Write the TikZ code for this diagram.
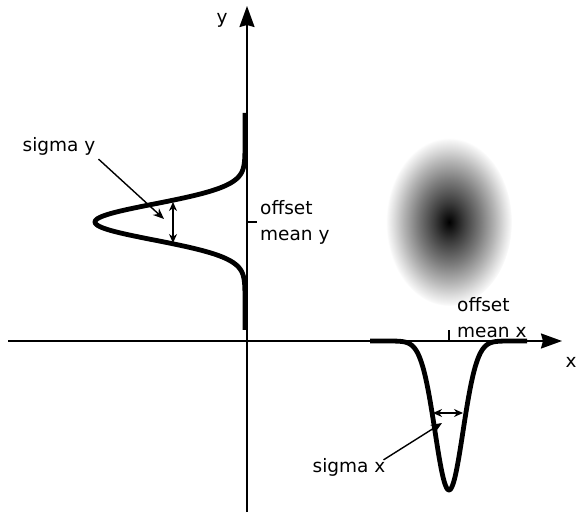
\documentclass[tikz,border=0pt]{standalone}
\usepackage{fontspec}
\setmainfont{DejaVu Sans}
\usetikzlibrary{arrows.meta}
\pgfdeclareradialshading{blob}{\pgfpoint{0bp}{0bp}}{color(0bp)=(black); color(2bp)=(black!92); color(6bp)=(black!76); color(12.5bp)=(black!52); color(18bp)=(black!30); color(22bp)=(black!13); color(24.5bp)=(black!3); color(25bp)=(white); color(50bp)=(white)}
\begin{document}
\begin{tikzpicture}[x=1pt,y=-1pt,
  lbl/.style={font=\fontsize{18.5}{26}\selectfont, inner sep=0pt},
  axis/.style={line width=2pt, -{Stealth[length=21pt,width=15pt,inset=2pt]}},
  curve/.style={line width=4.8pt, line join=round},
  pointer/.style={line width=1.4pt, -{Stealth[length=11pt,width=9pt]}},
  dbl/.style={line width=1.4pt, {Stealth[length=9pt,width=8pt]}-{Stealth[length=9pt,width=8pt]}},
  tick/.style={line width=1.4pt}]
\useasboundingbox (0,0) rectangle (579,513);
% blob
\shade[shading=blob] (449,222) ellipse [x radius=63, y radius=84];
% axes
\coordinate (xs) at (8,341);
\coordinate (xe) at (562,341);
\coordinate (ys) at (247,512);
\coordinate (ye) at (247,6);
\draw[axis] (xs) -- (xe);
\draw[axis] (ys) -- (ye);
\node[lbl] (xl) at (571,362) {x};
\node[lbl] (yl) at (222,20) {y};
% y gaussian
\draw[curve] plot[domain=113:330, samples=200] ({245-150*exp(-((\x-222)^2)/(2*18*18))},\x);
% x gaussian
\draw[curve] plot[domain=370:527, samples=200] (\x,{341+149*exp(-((\x-449)^2)/(2*14*14))});
% ticks
\coordinate (ty0) at (247,222);
\coordinate (ty1) at (257,222);
\draw[tick] (ty0) -- (ty1);
\coordinate (tx0) at (449,341);
\coordinate (tx1) at (449,330);
\draw[tick] (tx0) -- (tx1);
\node[lbl, anchor=west, align=left] (omy) at (260,222) {offset\\mean y};
\node[lbl, anchor=west, align=left] (omx) at (457,318) {offset\\mean x};
% sigma y
\node[lbl] (sy) at (59,146) {sigma y};
\coordinate (syt) at (164,219);
\draw[pointer] (sy.south east) ++(3,4) -- (syt);
\coordinate (dy0) at (173,202);
\coordinate (dy1) at (173,243);
\draw[dbl] (dy0) -- (dy1);
% sigma x
\node[lbl] (sx) at (349,467) {sigma x};
\coordinate (sxt) at (442,423);
\draw[pointer] (sx.north east) ++(-2,2) -- (sxt);
\coordinate (dx0) at (433,413);
\coordinate (dx1) at (463,413);
\draw[dbl] (dx0) -- (dx1);
\end{tikzpicture}
\end{document}
